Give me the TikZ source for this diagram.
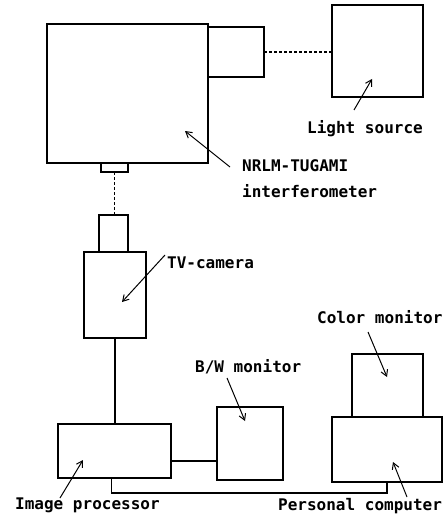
\documentclass[tikz,border=0pt]{standalone}
\usepackage{fontspec}
\newfontfamily\labfont{DejaVu Sans Mono}
\usetikzlibrary{arrows.meta,calc}
\begin{document}
\begin{tikzpicture}[x=1pt,y=-1pt,
  box/.style={draw,line width=2pt,rectangle,inner sep=0pt,outer sep=0pt,anchor=north west},
  wire/.style={line width=1.5pt},
  dotwire/.style={line width=1.8pt,dash pattern=on 2.5pt off 2.5pt},
  lab/.style={font=\labfont\bfseries\fontsize{16}{19}\selectfont,inner sep=0pt,anchor=base west},
  pointer/.style={line width=1pt,-{Straight Barb[length=6pt,width=7pt]}}]
\useasboundingbox (0,0) rectangle (447,524);
% boxes
\node[box,minimum width=161pt,minimum height=139pt] (interf) at (47,24) {};
\node[box,minimum width=56pt,minimum height=50pt] (att) at (208,27) {};
\node[box,minimum width=91pt,minimum height=92pt] (light) at (332,5) {};
\node[box,minimum width=27pt,minimum height=9pt] (port) at (101,163) {};
\node[box,minimum width=29pt,minimum height=37pt] (lens) at (99,215) {};
\node[box,minimum width=62pt,minimum height=86pt] (cam) at (84,252) {};
\node[box,minimum width=113pt,minimum height=54pt] (ip) at (58,424) {};
\node[box,minimum width=66pt,minimum height=73pt] (bw) at (217,407) {};
\node[box,minimum width=71pt,minimum height=63pt] (cm) at (352,354) {};
\node[box,minimum width=110pt,minimum height=65pt] (pc) at (332,417) {};
% connectors
\draw[dotwire] (att.east) -- (att.east -| light.west);
\draw[dotwire] (port.south) -- (port.south |- lens.north);
\draw[wire] (cam.south) -- (cam.south |- ip.north);
\coordinate (ipbw) at ($(ip.south east)+(0,-17)$);
\draw[wire] (ipbw) -- (ipbw -| bw.west);
\coordinate (ipb) at ($(ip.south)+(-3,0)$);
\draw[wire] (ipb) -- ++(0,15) -| (pc.south);
% labels
\node[lab] (tlight) at (307,133) {Light source};
\node[lab] (tnrlm) at (242,171) {NRLM-TUGAMI};
\node[lab] (tint) at (242,197) {interferometer};
\node[lab] (ttv) at (167,268) {TV-camera};
\node[lab] (tcm) at (317,323) {Color monitor};
\node[lab] (tbw) at (195,372) {B/W monitor};
\node[lab] (tip) at (15,509) {Image processor};
\node[lab] (tpc) at (278,510) {Personal computer};
% pointers
\coordinate (p1a) at (354,110); \coordinate (p1b) at (372,79);
\coordinate (p2a) at (230,167); \coordinate (p2b) at (185,131);
\coordinate (p3a) at (165,255); \coordinate (p3b) at (122,302);
\coordinate (p4a) at (368,332); \coordinate (p4b) at (387,377);
\coordinate (p5a) at (227,378); \coordinate (p5b) at (245,421);
\coordinate (p6a) at (60,498);  \coordinate (p6b) at (83,460);
\coordinate (p7a) at (407,497); \coordinate (p7b) at (393,462);
\draw[pointer] (p1a) -- (p1b);
\draw[pointer] (p2a) -- (p2b);
\draw[pointer] (p3a) -- (p3b);
\draw[pointer] (p4a) -- (p4b);
\draw[pointer] (p5a) -- (p5b);
\draw[pointer] (p6a) -- (p6b);
\draw[pointer] (p7a) -- (p7b);
\end{tikzpicture}
\end{document}
